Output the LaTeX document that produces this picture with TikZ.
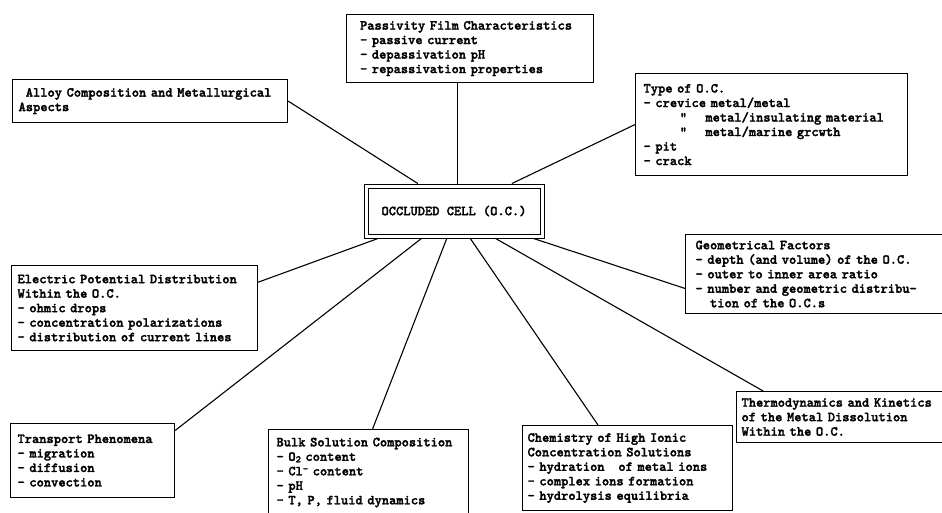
\documentclass[tikz,border=0pt]{standalone}
\usepackage{fontspec}
\newfontfamily\typefont{lmmonolt10-bold.otf}[FakeBold=2]
\usepackage{tikz}
\usetikzlibrary{calc}
\tikzstyle{factor}=[draw, line width=1.1pt, anchor=north west, align=left,
  inner ysep=0pt, font=\typefont\fontsize{13.8}{14.5}\selectfont]
\tikzstyle{link}=[line width=1.1pt]
\tikzstyle{cell}=[draw, line width=1pt, double, double distance=3pt,
  minimum width=176pt, minimum height=50pt, outer sep=2.5pt,
  font=\typefont\fontsize{13.8}{14.5}\selectfont]
\newcommand{\lowidx}[1]{\raisebox{-1.5pt}{\fontsize{10}{10}\selectfont #1}}
\newcommand{\highidx}[1]{\raisebox{3.5pt}{\fontsize{10}{10}\selectfont #1}}

\begin{document}
\begin{tikzpicture}[x=1pt,y=-1pt]
	  \useasboundingbox (0,0) rectangle (942,512);
	  \fill[white] (0,0) rectangle (942,512);
	  \clip (0,0) rectangle (942,512);

	  % central cell
	  \node[cell] (occ) at (454,211) {OCCLUDED CELL (O.C.)};

	  % factors above
	  \node[factor, inner xsep=6pt, text width=263pt, minimum height=43pt] (alloy) at (12,79)
	    {\phantom{x}Alloy~Composition~and~Metallurgical\\Aspects};
	  \node[factor, inner xsep=13.5pt, text width=220pt, minimum height=68pt] (pass) at (346,14)
	    {Passivity~Film~Characteristics\\- passive current\\- depassivation pH\\- repassivation properties};
	  \node[factor, inner xsep=8pt, text width=256pt, minimum height=102pt] (type) at (635,73)
	    {Type of O.C.\\- crevice metal/metal\\
	     \phantom{xxxxx}"~~~~metal/insulating~material\\
	     \phantom{xxxxx}"~~~~metal/marine grcwth\\- pit\\- crack};

	  % factors below
	  \node[factor, inner xsep=6pt, text width=234pt, minimum height=85pt] (elec) at (11,265)
	    {Electric Potential Distribution\\Within the O.C.\\- ohmic drops\\- concentration polarizations\\- distribution of current lines};
	  \node[factor, inner xsep=10pt, text width=245pt, minimum height=79pt] (geo) at (685,234)
	    {Geometrical Factors\\- depth (and volume) of the O.C.\\- outer to inner area ratio\\- number and geometric distribu-\\\phantom{xx}tion of the O.C.s};
	  \node[factor, inner xsep=5pt, text width=204pt, minimum height=51pt] (thermo) at (736,391)
	    {Thermodynamics~and~Kinetics\\of the Metal Dissolution\\Within the O.C.};
	  \node[factor, inner xsep=7pt, text width=150pt, minimum height=74pt] (trans) at (10,423)
	    {Transport Phenomena\\- migration\\- diffusion\\- convection};
	  \node[factor, inner xsep=8pt, text width=184pt, minimum height=86pt] (bulk) at (268,429)
	    {Bulk~Solution~Composition\\- O\lowidx{2} content\\- Cl\highidx{-} content\\- pH\\- T, P, fluid dynamics};
	  \node[factor, inner xsep=5pt, text width=200pt, minimum height=85pt] (chem) at (522,425)
	    {Chemistry of High Ionic\\Concentration Solutions\\- hydration~~~of~metal~ions\\- complex ions formation\\- hydrolysis equilibria};

	  % connectors
	  \coordinate (ptop) at ($(occ.north west)!0.52!(occ.north east)$);
	  \draw[link] (alloy.east) -- ($(occ.north west)!0.30!(occ.north east)$);
	  \draw[link] (ptop |- pass.south) -- (ptop);
	  \draw[link] (type.west) -- ($(occ.north west)!0.82!(occ.north east)$);
	  \draw[link] ($(elec.north east)!0.2!(elec.south east)$) -- ($(occ.south west)!0.08!(occ.south east)$);
	  \draw[link] ($(trans.north east)!0.1!(trans.south east)$) -- ($(occ.south west)!0.32!(occ.south east)$);
	  \draw[link] ($(bulk.north west)!0.52!(bulk.north east)$) -- ($(occ.south west)!0.46!(occ.south east)$);
	  \draw[link] ($(chem.north west)!0.36!(chem.north east)$) -- ($(occ.south west)!0.59!(occ.south east)$);
	  \draw[link] ($(thermo.north west)!0.126!(thermo.north east)$) -- ($(occ.south west)!0.73!(occ.south east)$);
	  \draw[link] ($(geo.north west)!0.68!(geo.south west)$) -- ($(occ.south west)!0.94!(occ.south east)$);
	\end{tikzpicture}
\end{document}
